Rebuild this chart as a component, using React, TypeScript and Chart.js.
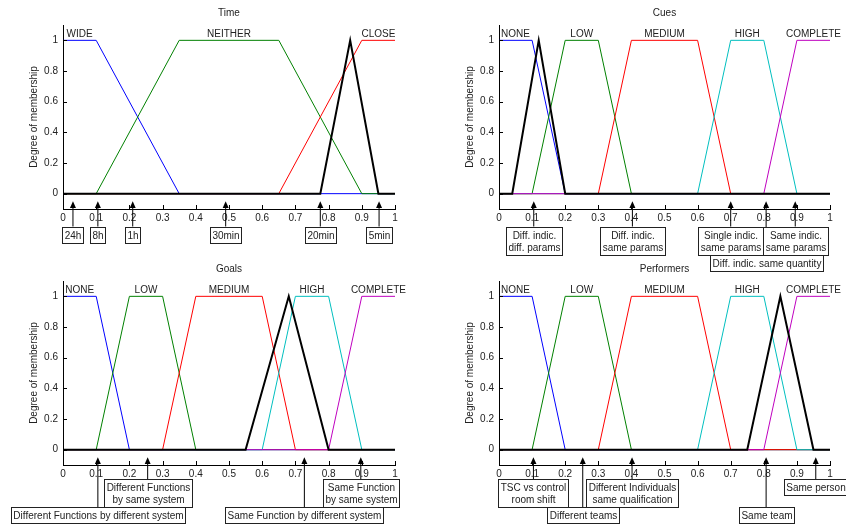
import React, { useEffect, useRef } from 'react';
import { Chart, registerables } from 'chart.js';

Chart.register(...registerables);

// ---------- data ----------
const xTickValues = [0, 0.1, 0.2, 0.3, 0.4, 0.5, 0.6, 0.7, 0.8, 0.9, 1];
const xTickLabels = ['0', '0.1', '0.2', '0.3', '0.4', '0.5', '0.6', '0.7', '0.8', '0.9', '1'];
const yTickValues = [0, 0.2, 0.4, 0.6, 0.8, 1];
const yTickLabels = ['0', '0.2', '0.4', '0.6', '0.8', '1'];

// Time
const timeNames = ['WIDE', 'NEITHER', 'CLOSE'];
const timeMfX = [
  [0, 0.1, 0.35, 1],
  [0, 0.1, 0.35, 0.65, 0.9, 1],
  [0, 0.65, 0.9, 1],
];
const timeMfY = [
  [1, 1, 0, 0],
  [0, 0, 1, 1, 0, 0],
  [0, 0, 1, 1],
];
const timeTriX = [0, 0.775, 0.865, 0.95, 1];
const timeTriY = [0, 0, 1, 0, 0];
const timeCueValues = [0.03, 0.105, 0.21, 0.49, 0.775, 0.952];
const timeCueLabels = ['24h', '8h', '1h', '30min', '20min', '5min'];
const timeCueRows = [0, 0, 0, 0, 0, 0];

// five-level membership functions (Cues, Goals, Performers)
const fiveNames = ['NONE', 'LOW', 'MEDIUM', 'HIGH', 'COMPLETE'];
const fiveMfX = [
  [0, 0.1, 0.2, 1],
  [0, 0.1, 0.2, 0.3, 0.4, 1],
  [0, 0.3, 0.4, 0.6, 0.7, 1],
  [0, 0.6, 0.7, 0.8, 0.9, 1],
  [0, 0.8, 0.9, 1],
];
const fiveMfY = [
  [1, 1, 0, 0],
  [0, 0, 1, 1, 0, 0],
  [0, 0, 1, 1, 0, 0],
  [0, 0, 1, 1, 0, 0],
  [0, 0, 1, 1],
];

// Cues
const cuesTriX = [0, 0.04, 0.12, 0.2, 1];
const cuesTriY = [0, 0, 1, 0, 0];
const cuesCueValues = [0.105, 0.403, 0.7, 0.807, 0.895];
const cuesCueLabels = [
  'Diff. indic.\ndiff. params',
  'Diff. indic.\nsame params',
  'Single indic.\nsame params',
  'Diff. indic. same quantity',
  'Same indic.\nsame params',
];
const cuesCueRows = [0, 0, 0, 1, 0];

// Goals
const goalsTriX = [0, 0.55, 0.68, 0.8, 1];
const goalsTriY = [0, 0, 1, 0, 0];
const goalsCueValues = [0.105, 0.255, 0.727, 0.897];
const goalsCueLabels = [
  'Different Functions by different system',
  'Different Functions\nby same system',
  'Same Function by different system',
  'Same Function\nby same system',
];
const goalsCueRows = [1, 0, 1, 0];

// Performers
const perfTriX = [0, 0.75, 0.85, 0.95, 1];
const perfTriY = [0, 0, 1, 0, 0];
const perfCueValues = [0.104, 0.253, 0.402, 0.807, 0.957];
const perfCueLabels = [
  'TSC vs control\nroom shift',
  'Different teams',
  'Different Individuals\nsame qualification',
  'Same team',
  'Same person',
];
const perfCueRows = [0, 1, 0, 1, 0];

// ---------- styling / layout ----------
const W = 846;
const H = 524;
const FAMILY = '"Liberation Sans", Arial, Helvetica, sans-serif';
const FONT = `10px ${FAMILY}`;
const TEXT = '#222';
const mfColors = ['rgb(0,0,255)', 'rgb(0,128,0)', 'rgb(255,0,0)', 'rgb(0,191,191)', 'rgb(191,0,191)'];
const Y_AXIS_W = 40;
const X_AXIS_H = 30;

type PanelCfg = {
  title: string;
  names: string[];
  mfX: number[][];
  mfY: number[][];
  triX: number[];
  triY: number[];
  cueV: number[];
  cueL: string[];
  cueR: number[];
  area: { left: number; right: number; top: number; bottom: number };
  boxGap: number;
};

const panels: PanelCfg[] = [
  {
    title: 'Time', names: timeNames, mfX: timeMfX, mfY: timeMfY, triX: timeTriX, triY: timeTriY,
    cueV: timeCueValues, cueL: timeCueLabels, cueR: timeCueRows,
    area: { left: 63, right: 395, top: 25, bottom: 209 }, boxGap: 17.5,
  },
  {
    title: 'Cues', names: fiveNames, mfX: fiveMfX, mfY: fiveMfY, triX: cuesTriX, triY: cuesTriY,
    cueV: cuesCueValues, cueL: cuesCueLabels, cueR: cuesCueRows,
    area: { left: 499, right: 830, top: 25, bottom: 209 }, boxGap: 17.5,
  },
  {
    title: 'Goals', names: fiveNames, mfX: fiveMfX, mfY: fiveMfY, triX: goalsTriX, triY: goalsTriY,
    cueV: goalsCueValues, cueL: goalsCueLabels, cueR: goalsCueRows,
    area: { left: 63, right: 395, top: 281, bottom: 465 }, boxGap: 14,
  },
  {
    title: 'Performers', names: fiveNames, mfX: fiveMfX, mfY: fiveMfY, triX: perfTriX, triY: perfTriY,
    cueV: perfCueValues, cueL: perfCueLabels, cueR: perfCueRows,
    area: { left: 499, right: 830, top: 281, bottom: 465 }, boxGap: 14,
  },
];

function makePlugin(cfg: PanelCfg) {
  return {
    id: 'fuzzyDecor_' + cfg.title,
    afterDraw(chart: any) {
      const { ctx, chartArea } = chart;
      const xs = chart.scales.x;
      const ys = chart.scales.y;
      ctx.save();

      // inward tick marks
      ctx.strokeStyle = '#000';
      ctx.lineWidth = 1;
      ctx.beginPath();
      xs.ticks.forEach((t: any) => {
        const px = Math.round(xs.getPixelForValue(t.value)) + 0.5;
        ctx.moveTo(px, chartArea.bottom);
        ctx.lineTo(px, chartArea.bottom - 4);
      });
      ys.ticks.forEach((t: any) => {
        const py = Math.round(ys.getPixelForValue(t.value)) + 0.5;
        ctx.moveTo(chartArea.left, py);
        ctx.lineTo(chartArea.left + 4, py);
      });
      ctx.stroke();

      ctx.font = FONT;
      ctx.fillStyle = TEXT;

      // title
      ctx.textAlign = 'center';
      ctx.textBaseline = 'middle';
      ctx.fillText(cfg.title, (chartArea.left + chartArea.right) / 2, chartArea.top - 12);

      // y-axis title
      ctx.save();
      ctx.translate(chartArea.left - 29, (chartArea.top + chartArea.bottom) / 2);
      ctx.rotate(-Math.PI / 2);
      ctx.fillText('Degree of membership', 0, 0);
      ctx.restore();

      // membership function names at plateau centres
      ctx.textBaseline = 'alphabetic';
      cfg.names.forEach((name, i) => {
        const px = cfg.mfX[i].filter((_, k) => cfg.mfY[i][k] === 1);
        const cx = (Math.min(...px) + Math.max(...px)) / 2;
        ctx.fillText(name, xs.getPixelForValue(cx), ys.getPixelForValue(1) - 3);
      });

      // cue arrows and boxes
      const tipY = ys.getPixelForValue(-0.05);
      const baseY = chartArea.bottom - 1;
      const row0Top = chartArea.bottom + cfg.boxGap;
      const rowStep = 28;
      const lineH = 12;
      const pad = 2;

      ctx.strokeStyle = '#000';
      ctx.lineWidth = 1;
      cfg.cueV.forEach((v, i) => {
        const px = xs.getPixelForValue(v);
        const top = row0Top + cfg.cueR[i] * rowStep;
        ctx.beginPath();
        ctx.moveTo(px, baseY);
        ctx.lineTo(px, top);
        ctx.stroke();
        ctx.beginPath();
        ctx.moveTo(px, tipY);
        ctx.lineTo(px - 3, baseY);
        ctx.lineTo(px + 3, baseY);
        ctx.closePath();
        ctx.fillStyle = '#000';
        ctx.fill();
      });

      cfg.cueV.forEach((v, i) => {
        const px = xs.getPixelForValue(v);
        const lines = cfg.cueL[i].split('\n');
        const tw = Math.max(...lines.map((l) => ctx.measureText(l).width));
        const w = Math.round(tw + pad * 2);
        const h = lines.length * lineH + pad * 2;
        const left = Math.round(px - w / 2) + 0.5;
        const top = Math.round(row0Top + cfg.cueR[i] * rowStep) + 0.5;
        ctx.fillStyle = '#fff';
        ctx.fillRect(left, top, w, h);
        ctx.strokeStyle = '#222';
        ctx.strokeRect(left, top, w, h);
        ctx.fillStyle = TEXT;
        ctx.textAlign = 'center';
        ctx.textBaseline = 'middle';
        lines.forEach((l, k) => {
          ctx.fillText(l, left + w / 2, top + pad + lineH / 2 + k * lineH + 0.5);
        });
      });

      ctx.restore();
    },
  };
}

function Panel({ cfg }: { cfg: PanelCfg }) {
  const ref = useRef<HTMLCanvasElement | null>(null);
  useEffect(() => {
    if (!ref.current) return;
    const n = cfg.names.length;
    const datasets: any[] = cfg.names.map((name, i) => ({
      label: name,
      data: cfg.mfX[i].map((x, k) => ({ x, y: cfg.mfY[i][k] })),
      borderColor: mfColors[i],
      borderWidth: 1,
      pointRadius: 0,
      tension: 0,
      fill: false,
      order: n - i,
    }));
    datasets.push({
      label: 'input',
      data: cfg.triX.map((x, k) => ({ x, y: cfg.triY[k] })),
      borderColor: '#000',
      borderWidth: 2,
      pointRadius: 0,
      tension: 0,
      fill: false,
      order: 0,
    });
    const a = cfg.area;
    const chart = new Chart(ref.current, {
      type: 'line',
      data: { datasets },
      options: {
        responsive: false,
        animation: false,
        events: [],
        layout: {
          padding: {
            left: a.left - Y_AXIS_W,
            right: W - a.right,
            top: a.top,
            bottom: H - a.bottom - X_AXIS_H,
          },
        },
        plugins: {
          legend: { display: false },
          tooltip: { enabled: false },
          title: { display: false },
        },
        scales: {
          x: {
            type: 'linear',
            min: 0,
            max: 1,
            afterBuildTicks: (s: any) => {
              s.ticks = xTickValues.map((value) => ({ value }));
            },
            afterFit: (s: any) => {
              s.height = X_AXIS_H;
              s.paddingLeft = 0;
              s.paddingRight = 0;
            },
            ticks: {
              callback: (_v: any, idx: number) => xTickLabels[idx],
              font: { family: FAMILY, size: 10 },
              color: TEXT,
              padding: 3,
              maxRotation: 0,
              minRotation: 0,
              autoSkip: false,
            },
            grid: { display: false, drawTicks: false },
            border: { display: true, color: '#000', width: 1 },
          },
          y: {
            type: 'linear',
            min: -0.1,
            max: 1.1,
            afterBuildTicks: (s: any) => {
              s.ticks = yTickValues.map((value) => ({ value }));
            },
            afterFit: (s: any) => {
              s.width = Y_AXIS_W;
              s.paddingTop = 0;
              s.paddingBottom = 0;
            },
            ticks: {
              callback: (_v: any, idx: number) => yTickLabels[idx],
              font: { family: FAMILY, size: 10 },
              color: TEXT,
              padding: 5,
              autoSkip: false,
            },
            grid: { display: false, drawTicks: false },
            border: { display: true, color: '#000', width: 1 },
          },
        },
      } as any,
      plugins: [makePlugin(cfg)],
    });
    return () => chart.destroy();
  }, [cfg]);
  return (
    <canvas
      ref={ref}
      width={W}
      height={H}
      style={{ position: 'absolute', left: 0, top: 0, width: W, height: H }}
    />
  );
}

export default function App() {
  return (
    <div style={{ position: 'fixed', left: 0, top: 0, width: W, height: H, background: '#fff', overflow: 'hidden' }}>
      {panels.map((p) => (
        <Panel key={p.title} cfg={p} />
      ))}
    </div>
  );
}
